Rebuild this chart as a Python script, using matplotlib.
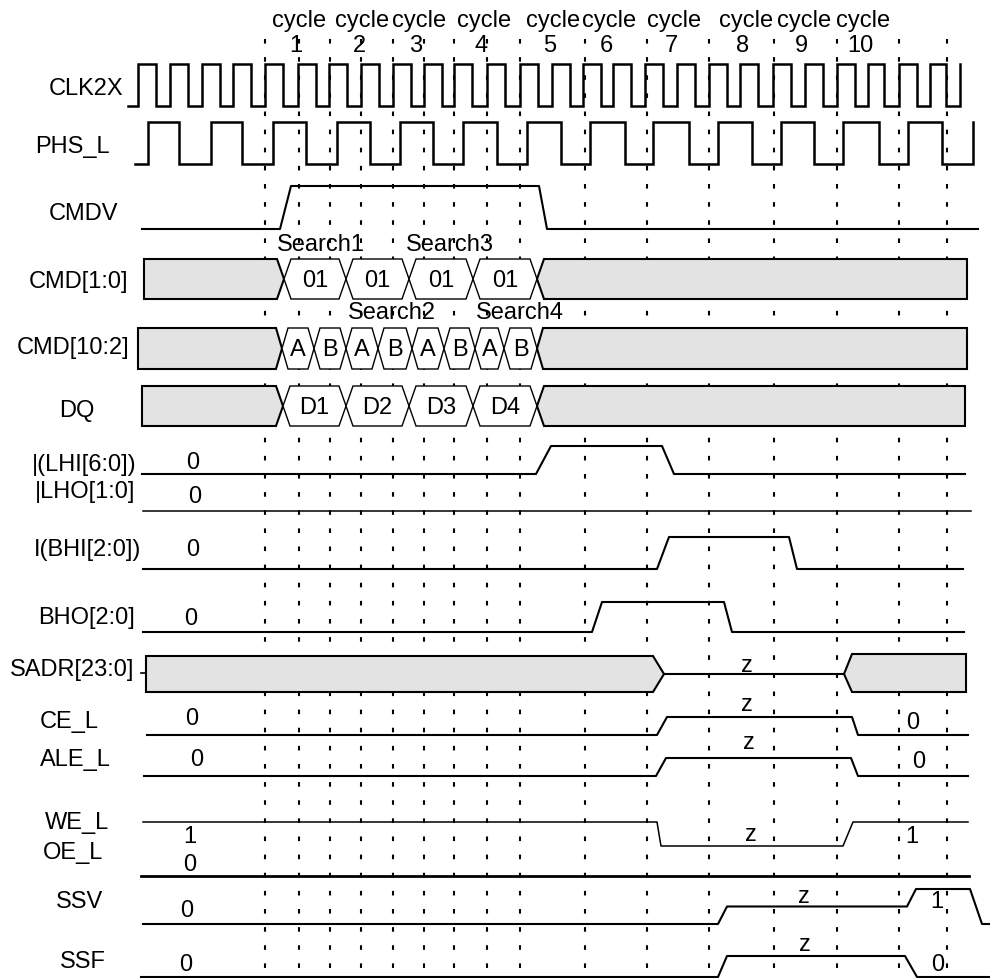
import matplotlib
matplotlib.use("Agg")
import matplotlib.pyplot as plt
from matplotlib.patches import Polygon

plt.rcParams['font.family'] = ['Liberation Sans', 'DejaVu Sans']

# ---------------- data (times on the horizontal time scale) ----------------
cycle_numbers = ["1", "2", "3", "4", "5", "6", "7", "8", "9", "10"]
cycle_times = [296, 359, 416, 481, 550, 606, 671, 743, 801, 860]
boundary_times = [265, 299, 330, 361, 393, 424, 454, 487, 520, 585,
                  647, 709, 774, 837, 899, 947]

signal_names = ["CLK2X", "PHS_L", "CMDV", "CMD[1:0]", "CMD[10:2]", "DQ",
                "|(LHI[6:0])", "|LHO[1:0]", "I(BHI[2:0])", "BHO[2:0]",
                "SADR[23:0]", "CE_L", "ALE_L", "WE_L", "OE_L", "SSV", "SSF"]

clk2x_start, clk2x_end = 128, 960
clk2x_rise = [138, 170, 202, 233, 265, 298, 329, 361, 393, 424, 454, 487, 520,
              552, 583, 613, 645, 677, 709, 740, 773, 805, 837, 868, 899, 930, 960]
clk2x_fall = [156, 188, 220, 251, 283, 316, 347, 379, 411, 442, 472, 505, 538,
              570, 601, 631, 663, 695, 727, 758, 791, 823, 855, 884, 917, 946]

phs_start, phs_end = 135, 973
phs_rise = [148, 211, 273, 337, 400, 463, 527, 590, 653, 718, 781, 843, 908, 973]
phs_fall = [179, 242, 306, 370, 433, 497, 561, 625, 689, 752, 814, 879, 942]

# level waveforms: 0 = low, 0.5 = z, 1 = high
cmdv_t = [142, 280, 291, 539, 547, 978]
cmdv_v = [0, 0, 1, 1, 0, 0]
lhi_t = [142, 536, 551, 662, 674, 965]
lhi_v = [0, 0, 1, 1, 0, 0]
lho_t = [143, 971]
lho_v = [0, 0]
bhi_t = [143, 657, 669, 789, 797, 963]
bhi_v = [0, 0, 1, 1, 0, 0]
bho_t = [143, 592, 602, 724, 732, 964]
bho_v = [0, 0, 1, 1, 0, 0]
ce_t = [147, 657, 667, 852, 858, 968]
ce_v = [0, 0, 0.5, 0.5, 0, 0]
ale_t = [144, 656, 666, 851, 858, 968]
ale_v = [0, 0, 0.5, 0.5, 0, 0]
we_t = [143, 657, 661, 843, 853, 968]
we_v = [1, 1, 0.5, 0.5, 1, 1]
oe_t = [141, 969]
oe_v = [0, 0]
ssv_t = [143, 718, 727, 907, 916, 970, 982, 990]
ssv_v = [0, 0, 0.5, 0.5, 1, 1, 0, 0]
ssf_t = [141, 718, 727, 905, 917, 990]
ssf_v = [0, 0, 0.5, 0.5, 0, 0]

# bus rows
cmd10_cells = ["01", "01", "01", "01"]
cmd10_start, cmd10_end = 144, 967
cmd10_cross = [284, 346, 409, 473, 537]

cmd102_cells = ["A", "B", "A", "B", "A", "B", "A", "B"]
cmd102_start, cmd102_end = 138, 967
cmd102_cross = [282, 314, 346, 378, 412, 444, 475, 504, 537]

dq_cells = ["D1", "D2", "D3", "D4"]
dq_start, dq_end = 142, 965
dq_cross = [283, 346, 409, 473, 537]

sadr_start, sadr_end = 146, 966
sadr_cross = [664, 844]

search_labels = ["Search1", "Search3", "Search2", "Search4"]
search_times = [321, 450, 392, 520]

# ---------------- layout ----------------
FS = 17
GRAY = "#e3e3e3"
LW = 1.5

fig = plt.figure(figsize=(9.9, 9.79), dpi=100)
ax = fig.add_axes([0, 0, 1, 1])
ax.set_xlim(0, 990)
ax.set_ylim(979, 0)
ax.axis("off")

label_pos = {
    "CLK2X": (86, 89), "PHS_L": (72, 147), "CMDV": (84, 214),
    "CMD[1:0]": (79, 282), "CMD[10:2]": (73, 348), "DQ": (77, 411),
    "|(LHI[6:0])": (84, 465), "|LHO[1:0]": (85, 492), "I(BHI[2:0])": (88, 550),
    "BHO[2:0]": (86, 618), "SADR[23:0]": (72, 670), "CE_L": (69, 722),
    "ALE_L": (75, 760), "WE_L": (77, 823), "OE_L": (73, 853),
    "SSV": (80, 902), "SSF": (83, 962),
}
for name in signal_names:
    x, y = label_pos[name]
    ax.text(x, y, name, fontsize=FS, ha="center", va="center")

# cycle labels
for t, n in zip(cycle_times, cycle_numbers):
    ax.text(t + 3, 21, "cycle", fontsize=FS, ha="center", va="center")
    ax.text(t, 46, n, fontsize=FS, ha="center", va="center")

# boundary dashed lines
for t in boundary_times:
    ax.plot([t, t], [40, 979], color="black", lw=1.5,
            linestyle=(0, (2.2, 6.5)), zorder=1)


def clock(start, end, rises, falls, ylo, yhi):
    xs, ys = [start], [ylo]
    edges = sorted([(r, 1) for r in rises] + [(f, 0) for f in falls])
    cur = ylo
    for t, lvl in edges:
        nxt = yhi if lvl else ylo
        xs += [t, t]
        ys += [cur, nxt]
        cur = nxt
    if xs[-1] < end:
        xs.append(end)
        ys.append(cur)
    ax.plot(xs, ys, color="black", lw=LW + 0.3, zorder=3, solid_joinstyle="miter")


clock(clk2x_start, clk2x_end, clk2x_rise, clk2x_fall, 107, 65)
clock(phs_start, phs_end, phs_rise, phs_fall, 165, 123)


def wave(ts, vs, y0, y1, lw=LW):
    ys = [y0 + v * (y1 - y0) for v in vs]
    ax.plot(ts, ys, color="black", lw=lw, zorder=3)


wave(cmdv_t, cmdv_v, 230, 187)
wave(lhi_t, lhi_v, 475, 447)
wave(lho_t, lho_v, 512, 480, lw=1.1)
wave(bhi_t, bhi_v, 570, 538)
wave(bho_t, bho_v, 633, 603)
wave(ce_t, ce_v, 736, 700)
wave(ale_t, ale_v, 777, 741)
wave(we_t, we_v, 871, 823, lw=1.1)
wave(oe_t, oe_v, 877, 850, lw=2.0)
wave(ssv_t, ssv_v, 925, 890)
wave(ssf_t, ssf_v, 978, 936)


def bus(start, end, crosses, cells, top, bot, h=7):
    mid = (top + bot) / 2
    c0 = crosses[0]
    ax.add_patch(Polygon([(start, top), (c0 - h, top), (c0, mid), (c0 - h, bot), (start, bot)],
                         closed=True, facecolor=GRAY, edgecolor="black", lw=LW, zorder=2,
                         joinstyle="miter"))
    for a, b, txt in zip(crosses[:-1], crosses[1:], cells):
        ax.add_patch(Polygon([(a, mid), (a + h, top), (b - h, top), (b, mid), (b - h, bot), (a + h, bot)],
                             closed=True, facecolor="white", edgecolor="black", lw=1.0, zorder=2))
        ax.text((a + b) / 2, mid + 1, txt, fontsize=FS, ha="center", va="center", zorder=4)
    cl = crosses[-1]
    ax.add_patch(Polygon([(cl, mid), (cl + h, top), (end, top), (end, bot), (cl + h, bot)],
                         closed=True, facecolor=GRAY, edgecolor="black", lw=LW, zorder=2,
                         joinstyle="miter"))


bus(cmd10_start, cmd10_end, cmd10_cross, cmd10_cells, 260, 300)
bus(cmd102_start, cmd102_end, cmd102_cross, cmd102_cells, 329, 370, h=6)
bus(dq_start, dq_end, dq_cross, dq_cells, 387, 427)

# SADR: valid - z - valid
top, bot = 657, 693
mid = (top + bot) / 2
h = 11
a, b = sadr_cross
ax.add_patch(Polygon([(sadr_start, top), (a - h, top), (a, mid), (a - h, bot), (sadr_start, bot)],
                     closed=True, facecolor=GRAY, edgecolor="black", lw=LW, zorder=2))
ax.plot([a, b], [mid, mid], color="black", lw=LW, zorder=3)
ax.add_patch(Polygon([(b, mid), (b + h - 3, top - 2), (sadr_end, top - 2), (sadr_end, bot), (b + h - 3, bot)],
                     closed=True, facecolor=GRAY, edgecolor="black", lw=LW, zorder=2))
ax.plot([sadr_start - 5, sadr_start], [674, 674], color="black", lw=1.2, zorder=3)

# search labels
for txt, t, y in zip(search_labels, search_times, [245, 245, 313, 313]):
    ax.text(t, y, txt, fontsize=FS, ha="center", va="center", zorder=4)

# value annotations
values = [
    ("0", 193, 463), ("0", 195, 497), ("0", 193, 550), ("0", 191, 619),
    ("z", 747, 666), ("0", 192, 719), ("z", 747, 705), ("0", 913, 723),
    ("0", 197, 760), ("z", 749, 743), ("0", 919, 762),
    ("1", 190, 837), ("0", 190, 865), ("z", 751, 835), ("1", 912, 837),
    ("0", 187, 911), ("z", 804, 897), ("1", 937, 902),
    ("0", 186, 965), ("z", 805, 945), ("0", 938, 965),
]
for txt, x, y in values:
    ax.text(x, y, txt, fontsize=FS, ha="center", va="center", zorder=4)

fig.savefig("out.png", dpi=100)
